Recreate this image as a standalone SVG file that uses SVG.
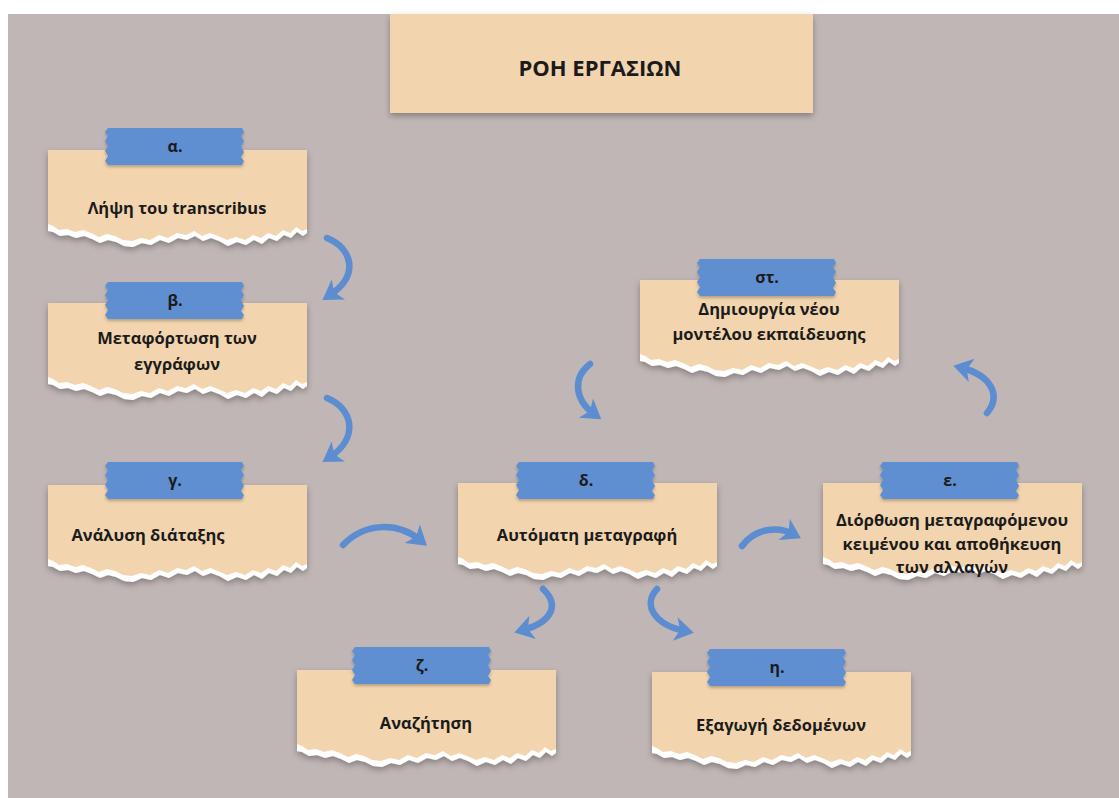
<svg xmlns="http://www.w3.org/2000/svg" xmlns:xlink="http://www.w3.org/1999/xlink" width="1119" height="798" viewBox="0 0 1119 798">
<style>
.txt{font-family:"Open Sans","Noto Sans","DejaVu Sans",sans-serif;font-weight:700;fill:#1b1b1b;text-anchor:middle}
.body{font-size:16.5px}
.lbl{font-size:16px}
.title{font-size:22px}
.arrow{fill:none;stroke:#5B8DD0;stroke-width:6.5;stroke-linecap:round;marker-end:url(#head)}
.tan{fill:#F2D5AE}
.tear{fill:#FFFFFF}
.tape{fill:#5F8FD0}
</style>
<defs>
<filter id="sh" x="-10%" y="-10%" width="120%" height="140%">
<feDropShadow dx="0" dy="3" stdDeviation="3" flood-color="#000" flood-opacity="0.3"/>
</filter>
<filter id="sh2" x="-10%" y="-20%" width="120%" height="150%">
<feDropShadow dx="0" dy="2" stdDeviation="1.5" flood-color="#000" flood-opacity="0.25"/>
</filter>
<marker id="head" markerUnits="userSpaceOnUse" viewBox="-20 -14 26 28" markerWidth="26" markerHeight="28" refX="-6" refY="0" orient="auto">
<path d="M-16,-12 L3,0 L-16,12 L-11,0 Z" fill="#5B8DD0"/>
</marker>
<g id="card">
<path class="tear" d="M0,0 H259 V83 L255,86 L249,82 L243,88 L236,85 L229,91 L221,88 L214,94 L206,90 L198,95 L189,92 L180,96 L171,91 L163,88 L155,91 L147,86 L139,90 L130,88 L121,93 L112,90 L103,95 L94,93 L85,97 L76,96 L68,92 L60,90 L52,93 L44,89 L36,86 L28,88 L20,85 L12,86 L5,82 L0,81 Z"/>
<path class="tan" d="M0,0 H259 V79 L254,81 L248,77 L242,83 L235,80 L228,86 L220,83 L213,88 L205,85 L197,90 L188,87 L179,90 L170,86 L162,83 L154,86 L146,81 L138,85 L129,83 L120,88 L111,85 L102,90 L93,88 L84,91 L75,90 L67,86 L59,84 L51,87 L43,83 L35,80 L27,82 L19,79 L11,80 L5,76 L0,74 Z"/>
</g>
<path id="tapeShape" class="tape" d="M3,0 H137 L139,4 L136,8 L139,13 L136,18 L139,24 L136,29 L139,33 L137,37 H3 L0,33 L3,28 L0,23 L3,18 L0,13 L3,8 L0,4 Z"/>
</defs>
<rect x="0" y="0" width="1119" height="798" fill="#FFFFFF"/>
<rect x="8" y="14" width="1111" height="784" fill="#C0B6B5"/>

<g id="title">
<rect x="390" y="14" width="423" height="99" class="tan" filter="url(#sh)"/>
<text class="txt title" x="600" y="76">ΡΟΗ ΕΡΓΑΣΙΩΝ</text>
</g>

<g id="connectors">
<path class="arrow" d="M327,238 C352,248 360,275 330,295"/>
<path class="arrow" d="M327,398 C352,408 360,437 330,457"/>
<path class="arrow" d="M343,545 C365,522 398,522 420,540"/>
<path class="arrow" d="M742,546 C755,528 778,526 793,534"/>
<path class="arrow" d="M590,364 C572,378 575,400 594,414"/>
<path class="arrow" d="M987,413 C1002,395 990,375 962,368"/>
<path class="arrow" d="M543,589 C560,605 552,622 523,630"/>
<path class="arrow" d="M657,589 C642,605 655,625 685,631"/>
</g>

<g id="node-a">
<use href="#card" x="48" y="150" filter="url(#sh)"/>
<use href="#tapeShape" x="105" y="128" filter="url(#sh2)"/>
<text class="txt lbl" x="175" y="152">α.</text>
<text class="txt body" x="177" y="214">Λήψη του transcribus</text>
</g>

<g id="node-b">
<use href="#card" x="48" y="303" filter="url(#sh)"/>
<use href="#tapeShape" x="105" y="282" filter="url(#sh2)"/>
<text class="txt lbl" x="175" y="306">β.</text>
<text class="txt body" x="177" y="344">Μεταφόρτωση των</text>
<text class="txt body" x="177" y="370">εγγράφων</text>
</g>

<g id="node-c">
<use href="#card" x="48" y="485" filter="url(#sh)"/>
<use href="#tapeShape" x="105" y="462" filter="url(#sh2)"/>
<text class="txt lbl" x="175" y="486">γ.</text>
<text class="txt body" x="148" y="541">Ανάλυση διάταξης</text>
</g>

<g id="node-d">
<use href="#card" x="458" y="483" filter="url(#sh)"/>
<use href="#tapeShape" x="516" y="462" filter="url(#sh2)"/>
<text class="txt lbl" x="586" y="486">δ.</text>
<text class="txt body" x="587" y="541">Αυτόματη μεταγραφή</text>
</g>

<g id="node-e">
<use href="#card" x="823" y="483" filter="url(#sh)"/>
<use href="#tapeShape" x="880" y="462" filter="url(#sh2)"/>
<text class="txt lbl" x="950" y="486">ε.</text>
<text class="txt body" x="952" y="526">Διόρθωση μεταγραφόμενου</text>
<text class="txt body" x="952" y="550">κειμένου και αποθήκευση</text>
<text class="txt body" x="952" y="573">των αλλαγών</text>
</g>

<g id="node-st">
<use href="#card" x="640" y="280" filter="url(#sh)"/>
<use href="#tapeShape" x="697" y="259" filter="url(#sh2)"/>
<text class="txt lbl" x="767" y="283">στ.</text>
<text class="txt body" x="769" y="315">Δημιουργία νέου</text>
<text class="txt body" x="769" y="340">μοντέλου εκπαίδευσης</text>
</g>

<g id="node-z">
<use href="#card" x="297" y="670" filter="url(#sh)"/>
<use href="#tapeShape" x="352" y="647" filter="url(#sh2)"/>
<text class="txt lbl" x="422" y="671">ζ.</text>
<text class="txt body" x="426" y="729">Αναζήτηση</text>
</g>

<g id="node-h">
<use href="#card" x="652" y="672" filter="url(#sh)"/>
<use href="#tapeShape" x="707" y="649" filter="url(#sh2)"/>
<text class="txt lbl" x="777" y="673">η.</text>
<text class="txt body" x="781" y="731">Εξαγωγή δεδομένων</text>
</g>
</svg>
